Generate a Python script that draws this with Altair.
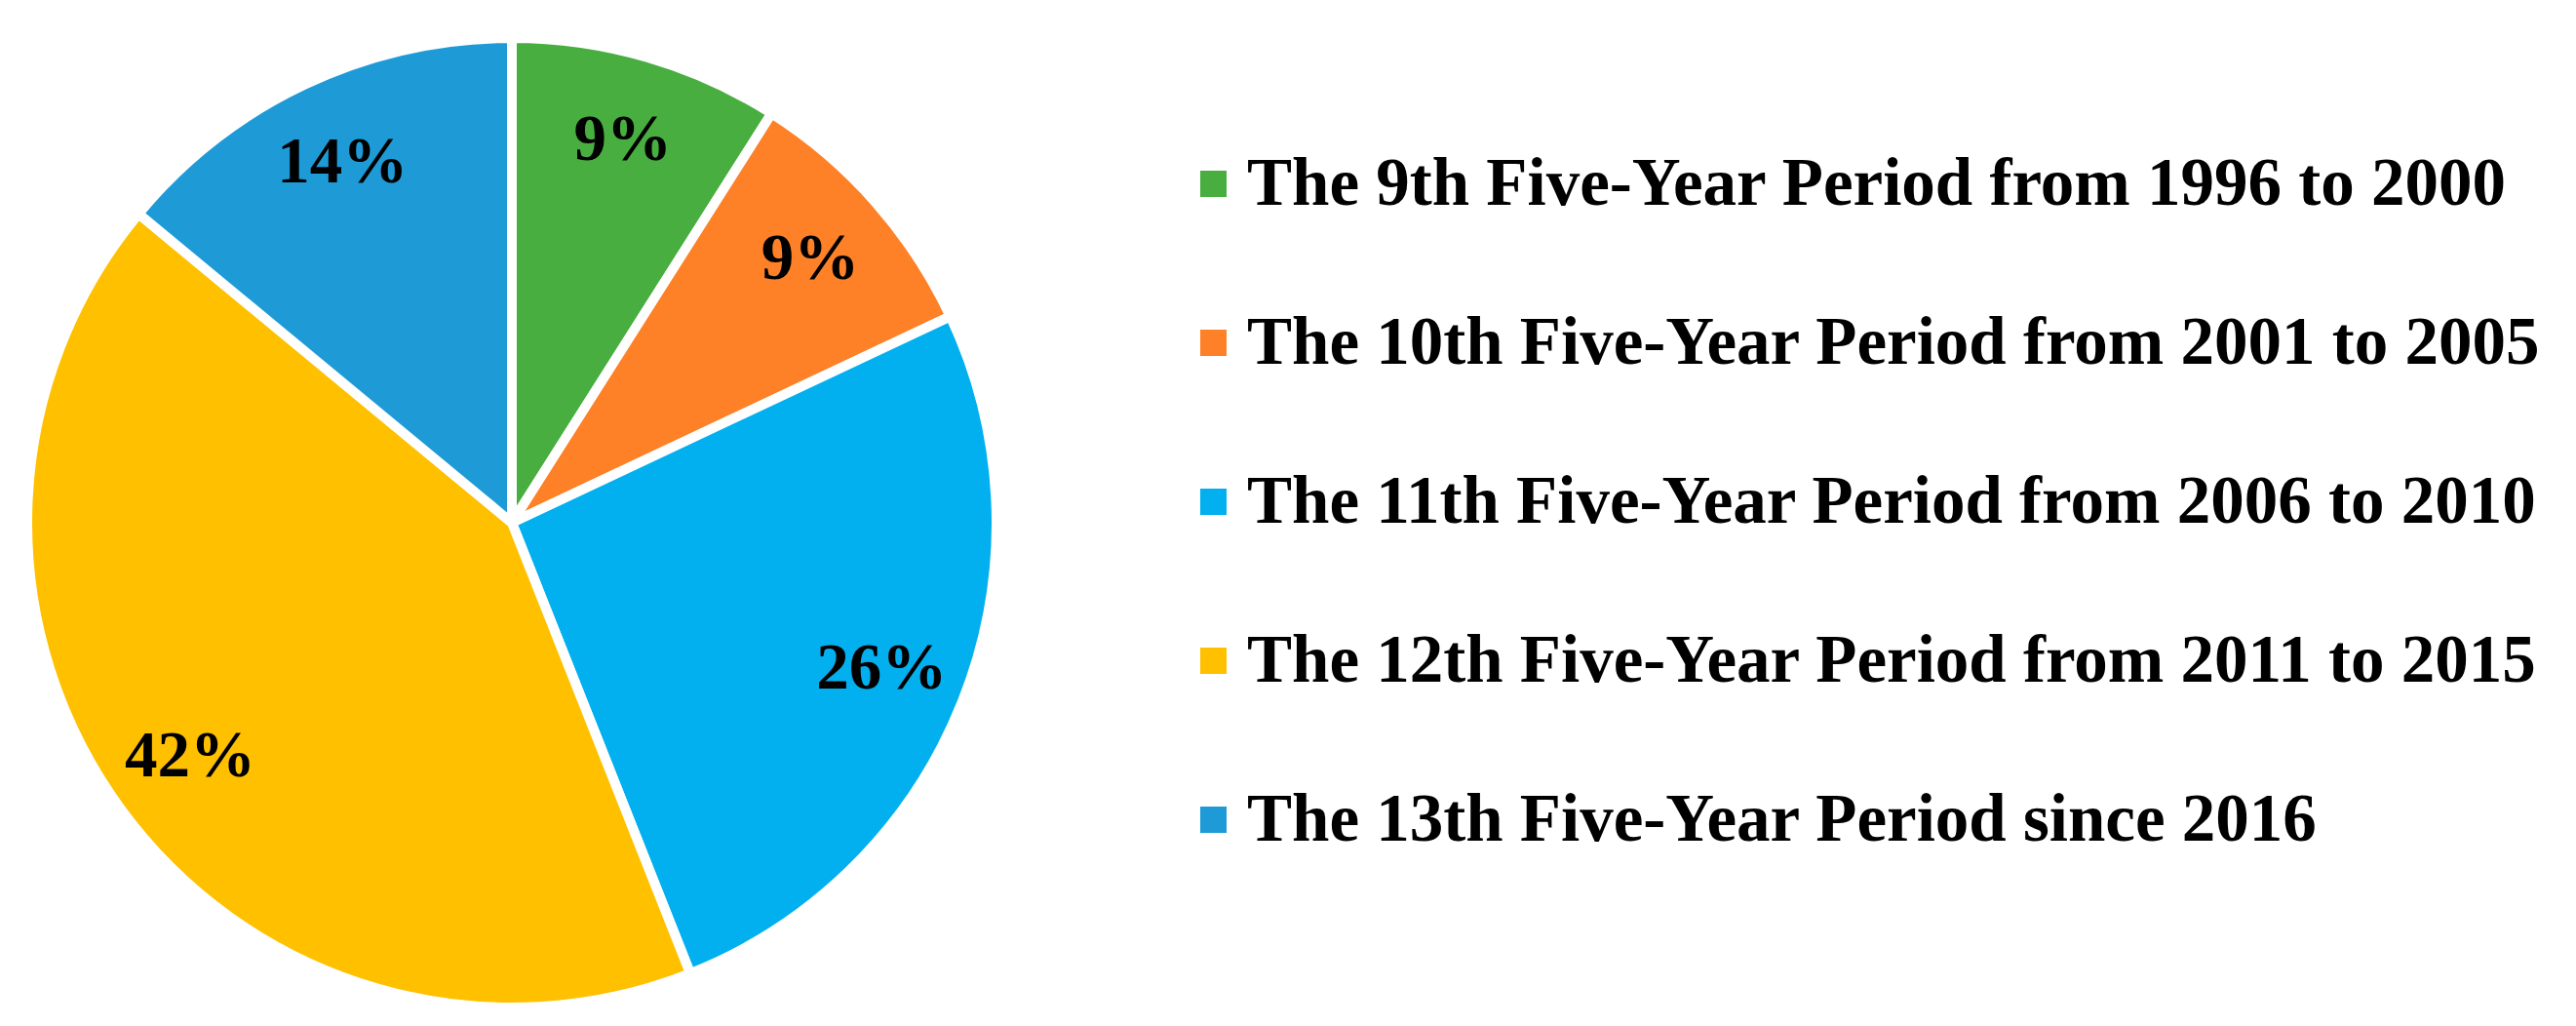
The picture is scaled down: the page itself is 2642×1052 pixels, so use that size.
import altair as alt
import pandas as pd

periods = [
    "The 9th Five-Year Period from 1996 to 2000",
    "The 10th Five-Year Period from 2001 to 2005",
    "The 11th Five-Year Period from 2006 to 2010",
    "The 12th Five-Year Period from 2011 to 2015",
    "The 13th Five-Year Period since 2016",
]
shares = [9, 9, 26, 42, 14]
colors = ["#47AE3F", "#FE8027", "#02B0F0", "#FFC000", "#1E9BD7"]

df = pd.DataFrame({"period": periods, "share": shares, "idx": list(range(len(periods)))})
df["label"] = df["share"].astype(str) + "%"

FONT = "Liberation Serif"
CX, CY = 516, 528

base = alt.Chart(df).encode(
    theta=alt.Theta("share:Q", stack=True),
    order=alt.Order("idx:Q"),
)

pie = base.mark_arc(outerRadius=497, stroke="white", strokeWidth=10).encode(
    x=alt.value(CX),
    y=alt.value(CY),
    color=alt.Color(
        "period:N",
        sort=periods,
        scale=alt.Scale(domain=periods, range=colors),
        legend=alt.Legend(
            title=None,
            orient="none",
            legendX=1201,
            legendY=146,
            symbolType="square",
            symbolSize=729,
            symbolStrokeWidth=0,
            labelFont=FONT,
            labelFontSize=69,
            labelFontWeight="bold",
            labelColor="black",
            labelOffset=0,
            labelLimit=2000,
            rowPadding=93,
        ),
    ),
)

text = base.mark_text(
    radius=408, font=FONT, fontSize=67, fontWeight="bold", color="black"
).encode(
    x=alt.value(CX),
    y=alt.value(CY),
    text="label:N",
)

chart = (
    alt.layer(pie, text)
    .properties(width=2600, height=1030, padding=0, background="white")
    .configure_view(strokeWidth=0, stroke="transparent")
)

chart.save("out.html", embed_options={"renderer": "svg", "actions": False})
